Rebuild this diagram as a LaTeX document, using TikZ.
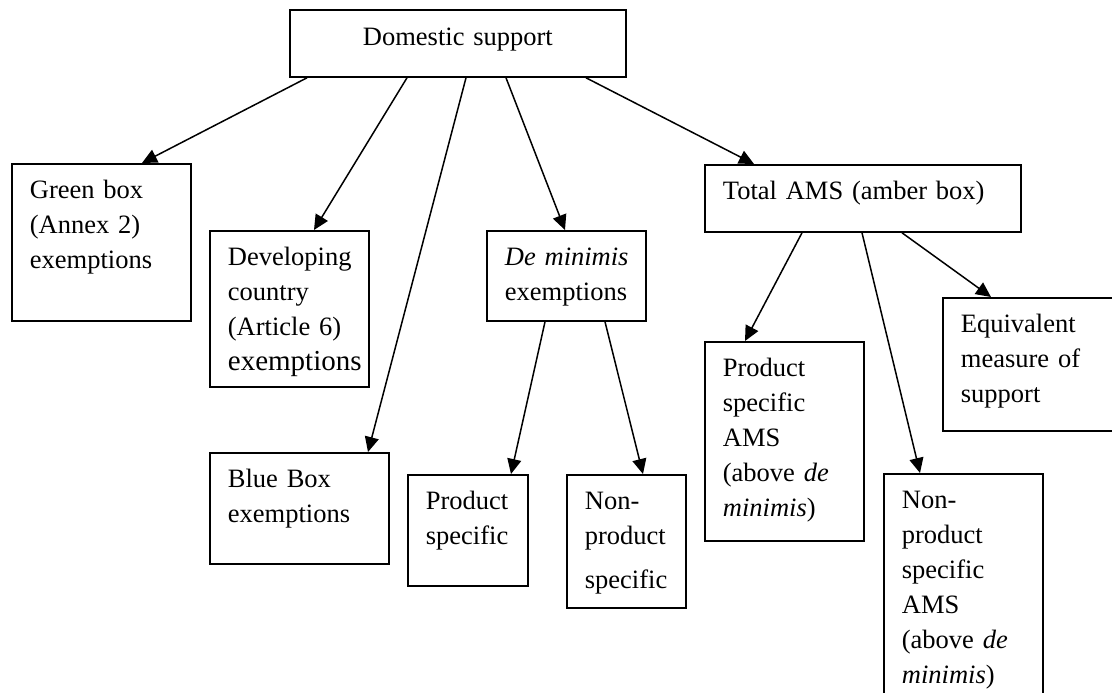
\documentclass[tikz,border=0pt]{standalone}
\usepackage{fontspec}
\setmainfont{Liberation Serif}
\usetikzlibrary{arrows.meta, calc}
\hyphenpenalty=10000

\begin{document}
\begin{tikzpicture}[x=1pt, y=-1pt,
    box/.style={draw, line width=1.8pt, anchor=north west, inner xsep=18pt,
      inner ysep=0pt, text height=35pt, align=left,
      font=\fontsize{26.5}{35}\selectfont},
    arr/.style={-{Triangle[length=15pt, width=14pt]}, line width=1.5pt}]
    \useasboundingbox (0,0) rectangle (1112,693);
    % top
    \node[box, align=center, text width=300pt, text height=36pt, text depth=31pt] (dom) at (289,9) {Domestic support};
    % second row
    \node[box, text width=143pt, text depth=122pt] (green) at (11,163) {Green box\\(Annex 2)\\exemptions};
    \node[box, text width=123pt, text depth=121pt] (dev) at (209,230) {Developing\\country\\(Article 6)\\{\fontsize{29}{35}\selectfont exemptions}};
    \node[box, text width=123pt, text depth=55pt] (demin) at (486,230) {\mbox{\textit{De minimis}}\\exemptions};
    \node[box, text width=280pt, text depth=32pt] (total) at (704,164) {Total AMS (amber box)};
    % lower rows
    \node[box, text width=143pt, text depth=76pt] (blue) at (209,452) {Blue Box\\exemptions};
    \node[box, text width=84pt, text depth=76pt] (prodspec) at (407,474) {Product\\specific};
    \node[box, text width=83pt, text depth=98pt] (nonprod) at (566,474) {Non-\\product\\[9pt]specific};
    \node[box, text width=123pt, text depth=164pt] (prodams) at (704,341) {Product\\specific\\AMS\\(above \textit{de}\\\textit{minimis})};
    \node[box, text width=123pt, text depth=225pt] (nonprodams) at (883,473) {Non-\\product\\specific\\AMS\\(above \textit{de}\\\textit{minimis})};
    \node[box, text width=144pt, text depth=98pt] (equiv) at (942,297) {Equivalent\\measure of\\support};
    % arrows
    \foreach \from/\fx/\to/\tx in {dom/18/green/131, dom/118/dev/105, dom/177/blue/159,
      dom/217/demin/79, dom/297/total/50, demin/59/prodspec/104, demin/119/nonprod/77,
      total/98/prodams/41, total/158/nonprodams/37, total/198/equiv/49}
      \draw[arr] ($(\from.south west)+(\fx,0)$) -- ($(\to.north west)+(\tx,0)$);
\end{tikzpicture}
\end{document}
